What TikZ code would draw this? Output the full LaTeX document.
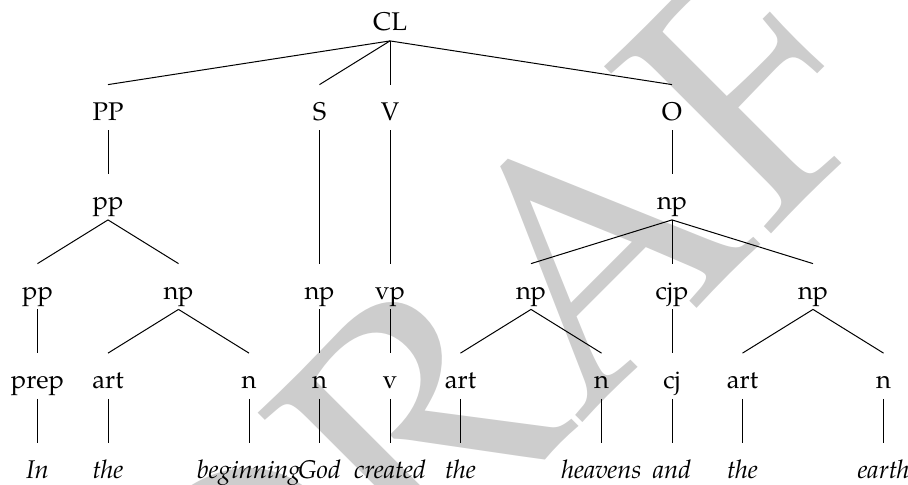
\documentclass[tikz,border=0pt]{standalone}
\usepackage{fontspec}
\setmainfont{TeX Gyre Pagella}
\definecolor{wmgray}{RGB}{205,205,205}
\begin{document}
\begin{tikzpicture}[x=0.5pt,y=-0.5pt,
  lbl/.style={anchor=base,inner sep=0pt,text height=17.5pt,text depth=5pt,font=\fontsize{12.8}{15}\selectfont},
  word/.style={lbl,font=\fontsize{12.8}{15}\selectfont\itshape},
  edge/.style={draw=black,line width=0.5pt}]
\path[use as bounding box] (0,0) rectangle (908,484);
\clip (0,0) rectangle (908,484);
\node[rotate=45,text=wmgray,inner sep=0pt,font=\fontsize{170}{170}\selectfont] (wm) at (555,281) {DRAFT};
% row 1
\node[lbl] (CL) at (390,30.5) {CL};
% row 2
\node[lbl] (PP) at (108,120) {PP};
\node[lbl] (S) at (319.5,120) {S};
\node[lbl] (V) at (390,120) {V};
\node[lbl] (O) at (672,120) {O};
% row 3
\node[lbl] (pp3) at (108,209.5) {pp};
\node[lbl] (np3) at (672,209.5) {np};
% row 4
\node[lbl] (pp4) at (37.5,299) {pp};
\node[lbl] (npA) at (178.5,299) {np};
\node[lbl] (npS) at (319.5,299) {np};
\node[lbl] (vp) at (390,299) {vp};
\node[lbl] (npB) at (531,299) {np};
\node[lbl] (cjp) at (672,299) {cjp};
\node[lbl] (npC) at (813,299) {np};
% row 5
\node[lbl] (prep) at (37.5,388.5) {prep};
\node[lbl] (artA) at (108,388.5) {art};
\node[lbl] (nA) at (249,388.5) {n};
\node[lbl] (nS) at (319.5,388.5) {n};
\node[lbl] (v) at (390,388.5) {v};
\node[lbl] (artB) at (460.5,388.5) {art};
\node[lbl] (nB) at (601.5,388.5) {n};
\node[lbl] (cj) at (672,388.5) {cj};
\node[lbl] (artC) at (742.5,388.5) {art};
\node[lbl] (nC) at (883.5,388.5) {n};
% row 6
\node[word] (w1) at (37.5,478) {In};
\node[word] (w2) at (108,478) {the};
\node[word] (w3) at (249,478) {beginning};
\node[word] (w4) at (319.5,478) {God};
\node[word] (w5) at (390,478) {created};
\node[word] (w6) at (460.5,478) {the};
\node[word] (w7) at (601.5,478) {heavens};
\node[word] (w8) at (672,478) {and};
\node[word] (w9) at (742.5,478) {the};
\node[word] (w10) at (883.5,478) {earth};
% edges
\foreach \a/\b in {CL/PP,CL/S,CL/V,CL/O,PP/pp3,pp3/pp4,pp3/npA,pp4/prep,npA/artA,npA/nA,
  S/npS,npS/nS,V/vp,vp/v,O/np3,np3/npB,np3/cjp,np3/npC,npB/artB,npB/nB,cjp/cj,npC/artC,npC/nC,
  prep/w1,artA/w2,nA/w3,nS/w4,v/w5,artB/w6,nB/w7,cj/w8,artC/w9,nC/w10}
  \path[edge] (\a.south) -- (\b.north);
\end{tikzpicture}
\end{document}
